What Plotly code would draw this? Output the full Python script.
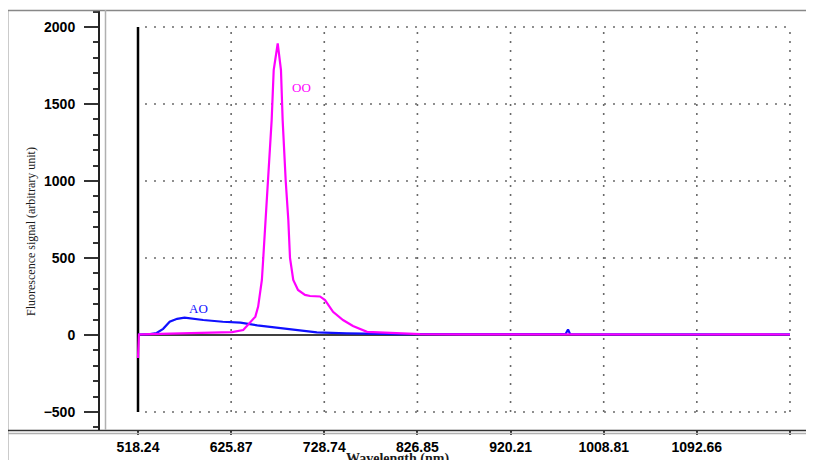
import plotly.graph_objects as go

# x: detector channel (one grid division = 100 channels); tick labels are wavelengths (nm)
tick_channels = [0, 100, 200, 300, 400, 500, 600, 700]
tick_labels = ["518.24", "625.87", "728.74", "826.85", "920.21", "1008.81", "1092.66", ""]
y_grid = [-500, 500, 1000, 1500, 2000]
y_major = [-500, 0, 500, 1000, 1500, 2000]

oo_x = [0, 1, 13, 45, 77, 101, 113, 120, 126, 129, 133, 134.5, 137, 139, 143.5, 145.7,
        150, 153.5, 155.3, 158.6, 161.4, 163.2, 166.7, 171.8, 179.3, 184.7, 195.4, 200.8,
        209.4, 220.1, 230.8, 245.9, 273.8, 302.8, 350, 400, 450, 500, 550, 600, 650, 700]
oo_y = [-150, 3, 5, 8, 12, 18, 32, 77, 119, 184, 357, 500, 745, 1000, 1395, 1720,
        1893, 1720, 1395, 1000, 745, 500, 357, 292, 260, 253, 250, 227,
        150, 97, 58, 20, 12, 5, 4, 3, 4, 3, 4, 3, 4, 3]

ao_x = [0, 13, 20, 27, 34, 42, 50, 60, 70, 91, 110, 128, 145, 160, 171, 192, 224, 281,
        350, 400, 459, 461.7, 464, 500, 600, 700]
ao_y = [3, 5, 13, 40, 86, 105, 112, 104, 97, 86, 80, 62, 50, 38, 28, 17, 11, 5,
        5, 4, 5, 35, 5, 4, 5, 4]

X_RANGE = [-40.8, 721.5]
Y_RANGE = [-617, 2110]

fig = go.Figure()

# grid (dotted)
shapes = []
for yv in y_grid:
    shapes.append(dict(type="line", xref="x", yref="y", x0=7.5, x1=tick_channels[-1], y0=yv, y1=yv,
                       line=dict(color="#6a6a6a", width=1.6, dash="2px,7px"), layer="below"))
for xv in tick_channels[1:]:
    shapes.append(dict(type="line", xref="x", yref="y", x0=xv, x1=xv, y0=y_grid[0], y1=y_grid[-1],
                       line=dict(color="#6a6a6a", width=1.6, dash="2px,7px"), layer="below"))
# zero line and start line
shapes.append(dict(type="line", xref="x", yref="y", x0=0, x1=tick_channels[-1], y0=0, y1=0,
                   line=dict(color="black", width=1.6), layer="below"))
shapes.append(dict(type="line", xref="x", yref="y", x0=0, x1=0, y0=y_grid[0], y1=y_grid[-1],
                   line=dict(color="black", width=2.5), layer="below"))
# frame lines (paper coords; page pixels, plot area spans px 100..810 x 10..430 on screen)
W, H = 710.0, 420.0
def px(xp):
    return (xp - 100) / W
def py(yp):
    return (430 - yp) / H
shapes += [
    dict(type="line", xref="paper", yref="paper", x0=px(7.5), x1=px(7.5), y0=py(10), y1=py(470),
         line=dict(color="#333333", width=1.5)),
    dict(type="line", xref="paper", yref="paper", x0=px(7.5), x1=px(830), y0=py(10.5), y1=py(10.5),
         line=dict(color="#888888", width=1.5)),
    dict(type="line", xref="paper", yref="paper", x0=px(7.5), x1=px(830), y0=py(430.5), y1=py(430.5),
         line=dict(color="#333333", width=1.5)),
    dict(type="line", xref="paper", yref="paper", x0=px(7.5), x1=px(830), y0=py(433.5), y1=py(433.5),
         line=dict(color="#b0b0b0", width=1.5)),
    dict(type="line", xref="paper", yref="paper", x0=px(105.5), x1=px(105.5), y0=py(10), y1=py(430),
         line=dict(color="#b0b0b0", width=1.5)),
]

fig.add_trace(go.Scatter(x=ao_x, y=ao_y, mode="lines", name="AO",
                         line=dict(color="#1010ff", width=2.2)))
fig.add_trace(go.Scatter(x=oo_x, y=oo_y, mode="lines", name="OO",
                         line=dict(color="#ff00ff", width=2.2)))

annotations = [
    dict(x=176, y=1610, xref="x", yref="y", text="OO", showarrow=False,
         font=dict(family="Liberation Serif", size=13, color="#ff00ff")),
    dict(x=65, y=169, xref="x", yref="y", text="AO", showarrow=False,
         font=dict(family="Liberation Serif", size=13, color="#1010ff")),
    dict(x=px(22), y=py(232), xref="paper", yref="paper", text="Fluorescence signal (arbitrary unit)",
         textangle=-90, showarrow=False,
         font=dict(family="Liberation Serif", size=12, color="#1a1a1a")),
    dict(x=px(397), y=py(449), xref="paper", yref="paper", text="<b>Wavelength (nm)</b>",
         showarrow=False, yanchor="top",
         font=dict(family="Liberation Serif", size=14, color="#1a1a1a")),
]

# the page body adds 8 px around the figure, so margins are reduced by 8 px
fig.update_layout(
    width=814, height=460,
    margin=dict(l=92, r=12, t=2, b=38),
    paper_bgcolor="white", plot_bgcolor="white",
    showlegend=False,
    shapes=shapes, annotations=annotations,
    xaxis=dict(range=X_RANGE, showgrid=False, zeroline=False, showline=False,
               tickmode="array", tickvals=tick_channels, ticktext=tick_labels,
               ticks="outside", ticklen=4, tickwidth=1.5, tickcolor="#333333",
               ticklabelstandoff=0,
               tickfont=dict(family="Liberation Sans", size=14, color="black", weight="bold")),
    yaxis=dict(range=Y_RANGE, showgrid=False, zeroline=False,
               showline=True, linecolor="#222222", linewidth=2,
               tickmode="array", tickvals=y_major,
               ticks="outside", ticklen=14, tickwidth=2, tickcolor="#333333",
               ticklabelstandoff=6,
               minor=dict(dtick=100, ticks="outside", ticklen=5, tickwidth=2, tickcolor="#333333"),
               tickfont=dict(family="Liberation Sans", size=14, color="black", weight="bold")),
)

fig.write_html("out.html")
